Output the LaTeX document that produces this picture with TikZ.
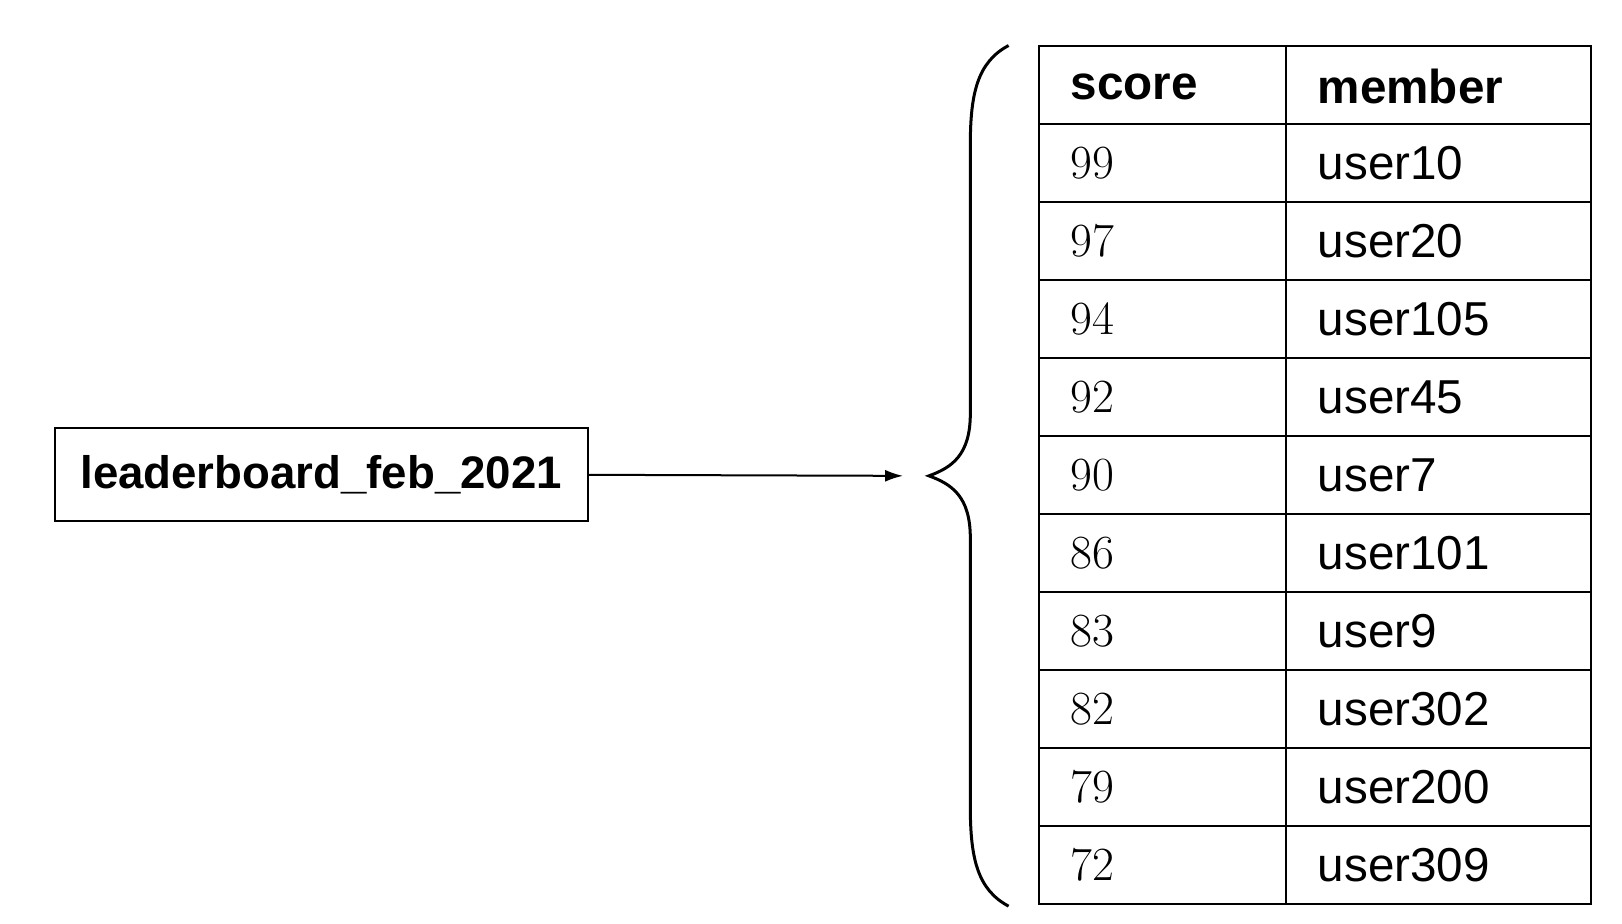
\documentclass[tikz,border=0pt]{standalone}
\usepackage{fontspec}
\setsansfont{Liberation Sans}
\usetikzlibrary{arrows.meta}

\tikzset{
    cell/.style={anchor=west, inner sep=0pt, font=\sffamily\fontsize{23.8}{27}\selectfont},
    numcell/.style={anchor=west, inner sep=0pt, font=\fontsize{23.8}{27}\selectfont},
    headcell/.style={cell, font=\sffamily\bfseries\fontsize{23.8}{27}\selectfont},
}

\begin{document}
\begin{tikzpicture}[x=0.5172pt, y=-0.5172pt, line width=1pt]
    \useasboundingbox (0,0) rectangle (1568,893);

    % key box
    \node[draw, minimum width=266.3pt, minimum height=46.5pt, inner sep=0pt,
          font=\sffamily\bfseries\fontsize{22.8}{27}\selectfont] (key) at (310.5,459) {leaderboard\_feb\_2021};
    \coordinate (tip) at (873,460);
    \draw[-{Latex[length=9pt,width=6pt]}] (key.east) -- (tip);

    % brace
    \draw[line width=1.5pt] (975,44) .. controls (945,60) and (938,90) .. (938,140)
        -- (938,400) .. controls (938,440) and (920,452) .. (898,460)
        .. controls (920,468) and (938,480) .. (938,520)
        -- (938,780) .. controls (938,830) and (945,860) .. (975,876);

    % table grid
    \draw (1004,44) rectangle (1538,874);
    \draw (1243,44) -- (1243,874);
    \draw (1004,120) -- (1538,120);
    \foreach \i in {1,...,9}
        \draw (1004,{120+75.4*\i}) -- (1538,{120+75.4*\i});

    % header
    \node[headcell] (hscore) at (1034,84) {score};
    \node[headcell] (hmember) at (1273,84) {member};

    % rows
    \foreach \s/\u [count=\k] in {99/user10,97/user20,94/user105,92/user45,90/user7,
                                  86/user101,83/user9,82/user302,79/user200,72/user309}{
        \node[numcell] (s\k) at (1034,{120+75.4*\k-37.7}) {\s};
        \node[cell] (m\k) at (1273,{120+75.4*\k-37.7}) {\u};
    }
\end{tikzpicture}
\end{document}
